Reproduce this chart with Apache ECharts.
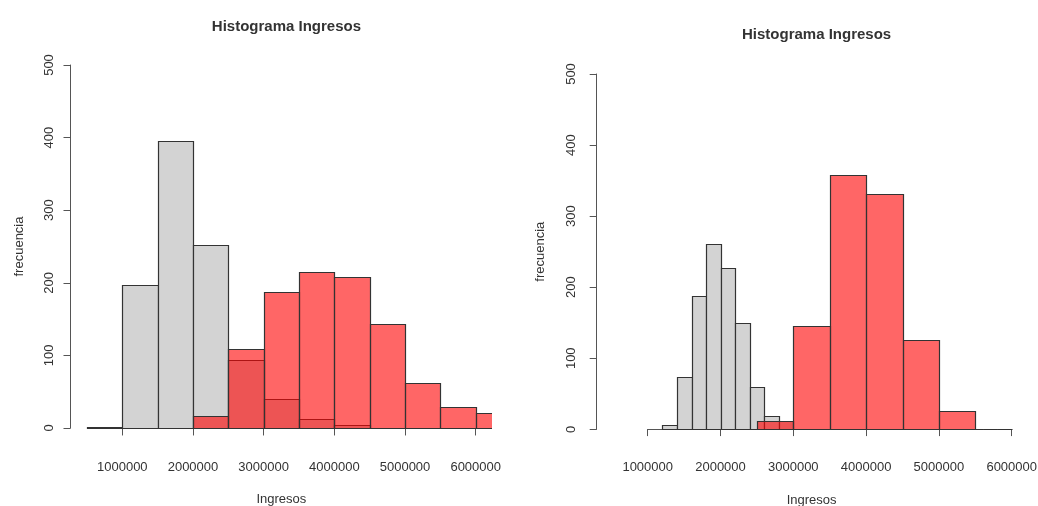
<!DOCTYPE html>
<html>
<head>
<meta charset="utf-8">
<script src="https://cdn.jsdelivr.net/npm/echarts@6/dist/echarts.min.js"></script>
<style>
html,body{margin:0;padding:0;background:#fff;}
#chart{width:1038px;height:506px;}
</style>
</head>
<body>
<div id="chart"></div>
<script>
// ---- data ----
const titleText = 'Histograma Ingresos';
const xTitle = 'Ingresos';
const yTitle = 'frecuencia';

// Left panel
const leftGrayBreaks = [500000, 1000000, 1500000, 2000000, 2500000, 3000000, 3500000, 4000000, 4500000, 5000000, 5500000, 6000000];
const leftGrayCounts = [1, 197, 396, 252, 94, 40, 13, 4, 0, 0, 0];
const leftRedBreaks = [2000000, 2500000, 3000000, 3500000, 4000000, 4500000, 5000000, 5500000, 6000000, 6500000];
const leftRedCounts = [17, 109, 187, 215, 208, 143, 62, 29, 20];

// Right panel
const rightGrayBreaks = [1200000, 1400000, 1600000, 1800000, 2000000, 2200000, 2400000, 2600000, 2800000, 3000000,
  3200000, 3400000, 3600000, 3800000, 4000000, 4200000, 4400000, 4600000, 4800000, 5000000,
  5200000, 5400000, 5600000, 5800000, 6000000];
const rightGrayCounts = [6, 73, 187, 261, 227, 150, 59, 19, 12, 0,
  0, 0, 0, 0, 0, 0, 0, 0, 0, 0, 0, 0, 0, 0];
const rightRedBreaks = [2500000, 3000000, 3500000, 4000000, 4500000, 5000000, 5500000];
const rightRedCounts = [11, 145, 358, 331, 126, 26];

// axis ticks
const xTickMin = 1000000, xTickMax = 6000000, xTickStep = 1000000;
const yTickMin = 0, yTickMax = 500, yTickStep = 100;

function bins(breaks, counts) {
  return counts.map((c, i) => [breaks[i], breaks[i + 1], c]);
}

const GRAY = '#d3d3d3';
const RED = 'rgba(255,0,0,0.6)';
const TEXT = '#333';
const AXIS = '#555';
const FONT = 'Liberation Sans, Arial, sans-serif';

function renderHist(params, api) {
  const x0 = api.value(0), x1 = api.value(1), y = api.value(2);
  const p0 = api.coord([x0, y]);
  const p1 = api.coord([x1, 0]);
  const xa = Math.round(p0[0]) + 0.5, xb = Math.round(p1[0]) + 0.5;
  const ya = Math.round(p0[1]) + 0.5, yb = Math.round(p1[1]) + 0.5;
  return {
    type: 'rect',
    shape: { x: xa, y: ya, width: xb - xa, height: yb - ya },
    style: { fill: api.visual('color'), stroke: '#333', lineWidth: 1.2 }
  };
}

// layout of each panel (pixels)
const panels = [
  { plot: { left: 71.4, top: 50.5, width: 420, height: 392 },
    xax: { left: 122.3, top: 50.5, width: 353.4, height: 392.5 },
    yax: { left: 70.5, top: 65, width: 10, height: 363 },
    yLabelMargin: 15, yNameGap: 45, titleTop: 14, gray: bins(leftGrayBreaks, leftGrayCounts), red: bins(leftRedBreaks, leftRedCounts) },
  { plot: { left: 595.5, top: 59.7, width: 432.2, height: 383.8 },
    xax: { left: 647.7, top: 59.7, width: 364, height: 383.6 },
    yax: { left: 596.7, top: 74, width: 10, height: 355.3 },
    yLabelMargin: 19, yNameGap: 50, titleTop: 22, gray: bins(rightGrayBreaks, rightGrayCounts), red: bins(rightRedBreaks, rightRedCounts) }
];

const grid = [], xAxis = [], yAxis = [], series = [], title = [];
panels.forEach((p, k) => {
  const g0 = grid.length;
  grid.push(Object.assign({ outerBoundsMode: 'none' }, p.plot));
  grid.push(Object.assign({ outerBoundsMode: 'none' }, p.xax));
  grid.push(Object.assign({ outerBoundsMode: 'none' }, p.yax));

  // plot grid axes (data range, hidden except x title)
  xAxis.push({ gridIndex: g0, type: 'value', min: 280000, max: 6220000,
    axisLine: { show: false }, axisTick: { show: false }, axisLabel: { show: false }, splitLine: { show: false },
    name: xTitle, nameLocation: 'middle', nameGap: 50,
    nameTextStyle: { color: TEXT, fontSize: 13, fontFamily: FONT } });
  yAxis.push({ gridIndex: g0, type: 'value', min: -20, max: 520, show: false });

  // x axis grid
  xAxis.push({ gridIndex: g0 + 1, type: 'value', min: xTickMin, max: xTickMax, interval: xTickStep,
    axisLine: { show: true, lineStyle: { color: AXIS, width: 1 } },
    axisTick: { show: true, length: 7, lineStyle: { color: AXIS } },
    axisLabel: { show: true, margin: 18, color: TEXT, fontSize: 13, fontFamily: FONT, showMinLabel: true, showMaxLabel: true, hideOverlap: false,
      formatter: v => String(v) },
    splitLine: { show: false } });
  yAxis.push({ gridIndex: g0 + 1, type: 'value', min: -20, max: 520, show: false });

  // y axis grid
  xAxis.push({ gridIndex: g0 + 2, type: 'value', min: 0, max: 1, show: false });
  yAxis.push({ gridIndex: g0 + 2, type: 'value', min: yTickMin, max: yTickMax, interval: yTickStep, position: 'left',
    axisLine: { show: true, lineStyle: { color: AXIS, width: 1 } },
    axisTick: { show: true, length: 7, lineStyle: { color: AXIS } },
    axisLabel: { show: true, rotate: 90, margin: p.yLabelMargin, color: TEXT, fontSize: 13, fontFamily: FONT, showMinLabel: true, showMaxLabel: true,
      formatter: v => String(v) },
    splitLine: { show: false },
    name: yTitle, nameLocation: 'middle', nameRotate: 90, nameGap: p.yNameGap,
    nameTextStyle: { color: TEXT, fontSize: 13, fontFamily: FONT } });

  series.push({ type: 'custom', xAxisIndex: g0, yAxisIndex: g0, clip: true, renderItem: renderHist,
    itemStyle: { color: GRAY }, encode: { x: [0, 1], y: 2 }, data: p.gray, silent: true });
  series.push({ type: 'custom', xAxisIndex: g0, yAxisIndex: g0, clip: true, renderItem: renderHist,
    itemStyle: { color: RED }, encode: { x: [0, 1], y: 2 }, data: p.red, silent: true });

  title.push({ text: titleText, left: p.plot.left + p.plot.width / 2, top: p.titleTop, textAlign: 'center',
    textStyle: { color: TEXT, fontSize: 15, fontWeight: 'bold', fontFamily: FONT } });
});

const chart = echarts.init(document.getElementById('chart'), null, { renderer: 'canvas' });
chart.setOption({
  animation: false,
  backgroundColor: '#fff',
  title, grid, xAxis, yAxis, series
});
</script>
</body>
</html>
